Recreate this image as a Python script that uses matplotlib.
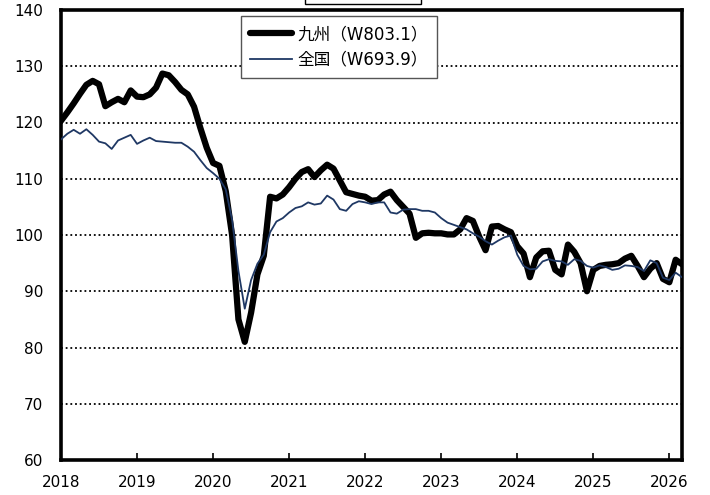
import numpy as np
import matplotlib
matplotlib.use('agg')
import matplotlib.pyplot as plt
from matplotlib.patches import Rectangle

plt.rcParams['font.family'] = ['DejaVu Sans', 'Noto Sans CJK JP']

# 月次データ(2018年1月から)
kyushu = [
    120.3, 121.8, 123.4, 125.1, 126.7, 127.4, 126.8, 122.9, 123.6, 124.2,
    123.6, 125.7, 124.6, 124.5, 125.0, 126.2, 128.7, 128.4, 127.2, 125.8,
    125.0, 122.8, 119.0, 115.5, 112.8, 112.3, 107.8, 100.0, 85.0, 81.0,
    86.2, 93.0, 96.3, 106.8, 106.5, 107.2, 108.5, 110.0, 111.2, 111.7,
    110.3, 111.5, 112.5, 111.8, 109.7, 107.6, 107.3, 107.0, 106.8, 106.1,
    106.2, 107.2, 107.7, 106.2, 105.0, 103.8, 99.5, 100.3, 100.4, 100.3,
    100.3, 100.1, 100.1, 101.0, 103.0, 102.5, 99.7, 97.3, 101.5, 101.6,
    101.0, 100.5, 98.0, 96.7, 92.5, 96.0, 97.1, 97.2, 93.8, 93.0,
    98.3, 97.0, 95.0, 90.0, 93.8, 94.5, 94.7, 94.8, 95.0, 95.8,
    96.3, 94.5, 92.5, 94.0, 95.0, 92.2, 91.6, 95.6, 94.8,
]
zenkoku = [
    117.0, 118.0, 118.7, 118.0, 118.8, 117.8, 116.6, 116.3, 115.3, 116.8,
    117.3, 117.8, 116.2, 116.8, 117.3, 116.7, 116.6, 116.5, 116.4, 116.4,
    115.7, 114.8, 113.3, 111.9, 111.0, 110.0, 108.1, 102.7, 93.6, 86.9,
    92.0, 94.9, 96.5, 100.5, 102.4, 103.0, 104.0, 104.8, 105.1, 105.8,
    105.4, 105.6, 107.0, 106.3, 104.6, 104.3, 105.5, 106.0, 105.8, 105.5,
    105.8, 105.8, 104.0, 103.8, 104.5, 104.6, 104.6, 104.3, 104.3, 104.0,
    103.0, 102.2, 101.8, 101.4, 101.0, 100.3, 99.7, 98.9, 98.3, 99.0,
    99.6, 99.9, 96.5, 94.5, 93.9, 94.0, 95.3, 95.7, 95.4, 95.3,
    94.7, 95.7, 95.4, 94.5, 94.2, 94.6, 94.3, 93.8, 94.0, 94.6,
    94.5, 94.3, 93.6, 95.5, 95.0, 92.4, 92.0, 93.3, 92.5,
]
year_labels = ['2018', '2019', '2020', '2021', '2022', '2023', '2024', '2025', '2026']
legend_labels = ['九州（W803.1）', '全国（W693.9）']

months = np.arange(len(kyushu))

fig = plt.figure(figsize=(7.1, 4.95), dpi=100)
ax = fig.add_axes([61 / 710, 35 / 495, 621 / 710, 450 / 495])

ax.plot(months, kyushu, color='black', lw=4.5, solid_joinstyle='round', solid_capstyle='round',
        label=legend_labels[0], zorder=3)
ax.plot(months, zenkoku, color='#1f3864', lw=1.3, label=legend_labels[1], zorder=4)

ax.set_xlim(0, len(kyushu) - 1)
ax.set_ylim(60, 140)
ax.set_yticks(np.arange(60, 141, 10))
ax.set_xticks(np.arange(0, 12 * len(year_labels), 12))
ax.set_xticklabels(year_labels)

for v in range(70, 140, 10):
    ax.axhline(v, color='black', lw=1.3, ls=(0, (1, 1.6)), zorder=1)

for s in ax.spines.values():
    s.set_linewidth(2.6)
ax.tick_params(axis='x', direction='in', length=5, width=1.2, labelsize=11, pad=11)
ax.tick_params(axis='y', length=0, labelsize=11, pad=13)

leg = ax.legend(loc='upper left', bbox_to_anchor=(0.29, 0.987), borderaxespad=0,
                fancybox=False, edgecolor='#555555', framealpha=1,
                prop={'family': ['DejaVu Sans', 'Noto Sans CJK JP'], 'size': 12},
                handlelength=2.5, handletextpad=0.35, labelspacing=0.45, borderpad=0.55)
leg.get_frame().set_linewidth(1.0)

# 上部の切れたテキストボックス
fig.patches.append(Rectangle((305 / 710, 491 / 495), 116 / 710, 10 / 495,
                             transform=fig.transFigure, facecolor='white',
                             edgecolor='black', lw=1.0))

fig.savefig('out.png', dpi=100)
